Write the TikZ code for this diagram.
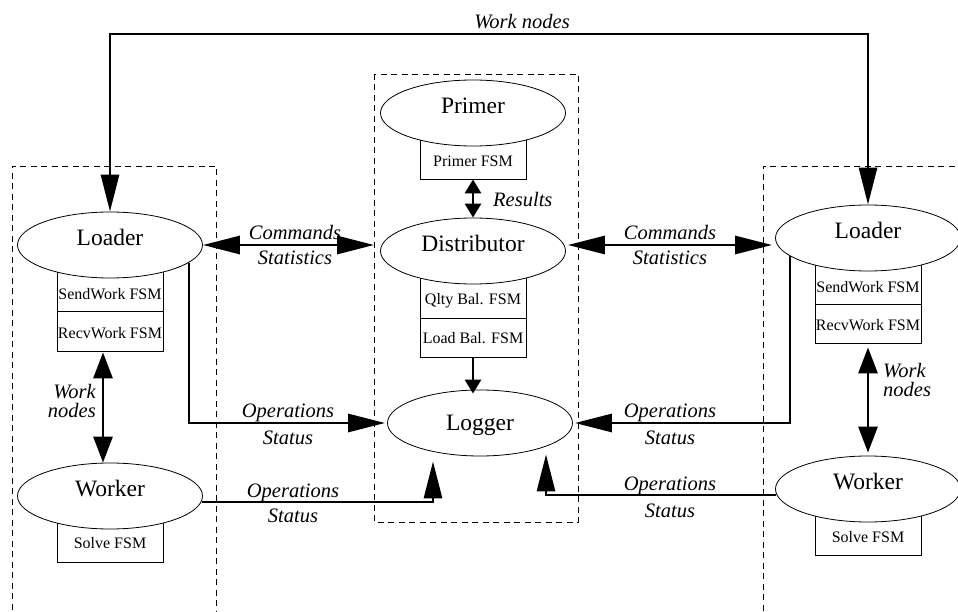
\documentclass[tikz,border=0pt]{standalone}
\usepackage{fontspec}
\setmainfont{Liberation Serif}
\usetikzlibrary{shapes.geometric,arrows.meta,calc}
\tikzset{
  ell/.style={ellipse,draw,line width=0.8pt,fill=white,minimum width=185pt,minimum height=66pt,inner sep=0pt,font=\fontsize{23.5pt}{27pt}\selectfont,text height=7pt,text depth=5.8pt},
  ellc/.style={ell,text height=16pt,text depth=0.8pt},
  cell/.style={rectangle,draw,line width=0.8pt,fill=white,minimum width=106pt,inner sep=0pt,font=\fontsize{16pt}{18pt}\selectfont},
  lab/.style={inner sep=0pt,font=\fontsize{20.5pt}{20pt}\selectfont\itshape,text height=14pt,text depth=0pt},
  lab2/.style={inner sep=0pt,font=\fontsize{20.5pt}{19.5pt}\selectfont\itshape},
  conn/.style={line width=2.9pt},
  grp/.style={line width=0.7pt,dash pattern=on 6pt off 4.5pt},
  BigT/.tip={Triangle[length=37pt,width=18pt]},
  MedT/.tip={Triangle[length=26pt,width=19pt]},
  SmallT/.tip={Triangle[length=14pt,width=16pt]}
}
\begin{document}
\begin{tikzpicture}[x=1pt,y=-1pt]
\useasboundingbox (0,0) rectangle (958,612);
% group boxes
\draw[grp] (12,620) -- (12,166) -- (216,166) -- (216,620);
\draw[grp] (374,74) rectangle (578,522);
\draw[grp] (965,166) -- (763,166) -- (763,620);
% FSM cells
\node[cell,text height=32pt,text depth=12pt] (pcell) at (473,157) {Primer FSM};
\node[cell,text height=35pt,text depth=13pt] (qcell) at (473,294) {Qlty Bal. FSM};
\node[cell,text height=25pt,text depth=14pt] (lbcell) at (473,337.5) {Load Bal. FSM};
\node[cell,text height=37pt,text depth=12pt] (lsend) at (110,286.5) {SendWork FSM};
\node[cell,text height=27pt,text depth=13pt] (lrecv) at (110,331) {RecvWork FSM};
\node[cell,text height=33pt,text depth=14pt] (lsolve) at (110,538.5) {Solve FSM};
\node[cell,text height=37pt,text depth=12pt] (rsend) at (868,279.5) {SendWork FSM};
\node[cell,text height=26pt,text depth=13pt] (rrecv) at (868,323.5) {RecvWork FSM};
\node[cell,text height=34pt,text depth=13pt] (rsolve) at (868,531.5) {Solve FSM};
% processes
\node[ell] (primer) at (473,113) {Primer};
\node[ell] (dist) at (473,251) {Distributor};
\node[ellc] (logger) at (480,423) {Logger};
\node[ell] (lload) at (110,245) {Loader};
\node[ell] (lwork) at (110,496) {Worker};
\node[ell] (rload) at (868,238) {Loader};
\node[ell] (rwork) at (868,489) {Worker};
% connectors
\coordinate (tl) at (110,34);
\coordinate (tr) at (868,34);
\draw[conn,BigT-BigT] (lload.north) -- (tl) -- (tr) -- (rload.north);
\node[lab] (wn) at (522,22) {Work nodes};

\draw[conn,BigT-BigT] (lload.east) -- ($(dist.west)+(-6,-6)$);
\node[lab] (c1) at (295,233) {Commands};
\node[lab] (s1) at (295,258) {Statistics};
\draw[conn,BigT-BigT] ($(dist.east)+(2,-6)$) -- ($(rload.west)+(-3,7)$);
\node[lab] (c2) at (670,233) {Commands};
\node[lab] (s2) at (670,258) {Statistics};

\draw[conn,SmallT-SmallT] (pcell.south) -- (dist.north);
\node[lab,anchor=west] (res) at (493,200) {Results};
\draw[conn,-SmallT] (lbcell.south) -- ($(lbcell.south |- logger.north)+(0,4)$);

\draw[conn,-BigT] ($(lload.center)+(79,18)$) |- ($(logger.west)+(-2,0)$);
\node[lab] (o1) at (288,410) {Operations};
\node[lab] (t1) at (288,437) {Status};
\draw[conn,-BigT] ($(lwork.east)+(-1,6)$) -| ($(logger.south)+(-47,5)$);
\node[lab] (o2) at (293,490) {Operations};
\node[lab] (t2) at (293,515) {Status};
\draw[conn,-BigT] ($(rload.center)+(-78,18)$) |- ($(logger.east)+(2,0)$);
\node[lab] (o3) at (670,410) {Operations};
\node[lab] (t3) at (670,437) {Status};
\draw[conn,-BigT] ($(rwork.west)+(1,6)$) -| ($(logger.south)+(66,-2)$);
\node[lab] (o4) at (670,483) {Operations};
\node[lab] (t4) at (670,510) {Status};

\draw[conn,MedT-MedT] ($(lrecv.south)+(-7,1)$) -- ($(lwork.north)+(-7,0)$);
\node[lab2,align=right,anchor=east] (lwn) at (96,401) {Work\\nodes};
\draw[conn,MedT-MedT] ($(rrecv.south)+(0,4)$) -- ($(rwork.north)+(0,-3)$);
\node[lab2,align=left,anchor=west] (rwn) at (883,380) {Work\\nodes};
\end{tikzpicture}
\end{document}
